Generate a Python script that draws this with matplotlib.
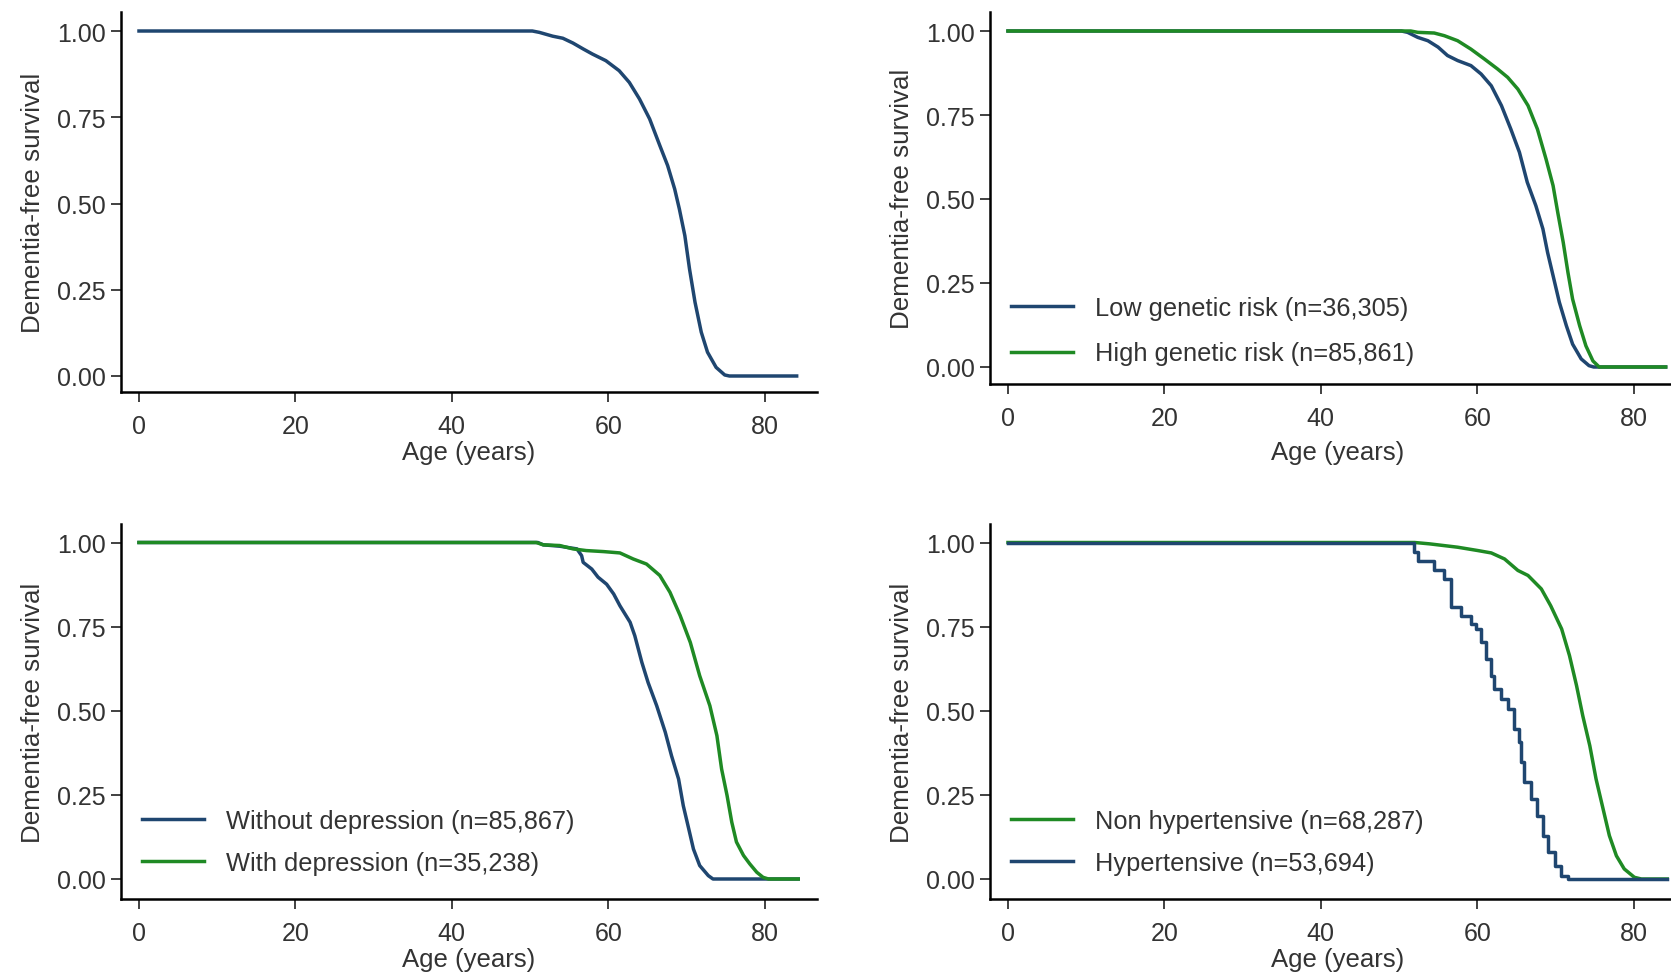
import matplotlib
matplotlib.use("Agg")
import matplotlib.pyplot as plt
from matplotlib.lines import Line2D

plt.rcParams['font.family'] = ['Liberation Sans', 'DejaVu Sans']

NAVY = '#1f4670'
GREEN = '#1f8a24'
TXT = '#333333'

# ---------------- data ----------------
# Panel A: overall
age_all = [0, 50.3, 51.2, 52.9, 54.2, 55.5, 56.8, 58.0, 59.7, 61.4, 62.7, 64.0, 65.3, 66.6,
           67.6, 68.5, 69.1, 69.8, 70.4, 71.1, 71.9, 72.7, 73.8, 74.9, 75.5, 84.1]
surv_all = [1, 1, 0.996, 0.985, 0.979, 0.965, 0.948, 0.933, 0.914, 0.885, 0.851, 0.803, 0.745, 0.668,
            0.610, 0.542, 0.484, 0.407, 0.310, 0.214, 0.127, 0.069, 0.025, 0.003, 0, 0]

# Panel B: genetic risk
age_low_gen = [0, 50.3, 51.1, 52.4, 53.7, 55.0, 56.2, 57.5, 59.2, 60.5, 61.8, 63.1, 64.3, 65.4,
               66.4, 67.5, 68.4, 69.0, 69.7, 70.5, 71.4, 72.2, 73.3, 74.3, 74.9, 84.1]
surv_low_gen = [1, 1, 0.996, 0.981, 0.971, 0.952, 0.927, 0.912, 0.897, 0.872, 0.837, 0.778, 0.708, 0.639,
                0.550, 0.480, 0.411, 0.341, 0.272, 0.193, 0.123, 0.068, 0.024, 0.004, 0, 0]
age_high_gen = [0, 51.5, 52.4, 54.5, 55.8, 57.5, 59.2, 60.9, 62.6, 63.9, 65.2, 66.5, 67.7, 68.8,
                69.7, 70.3, 71.0, 71.6, 72.2, 73.1, 73.9, 74.8, 75.6, 84.1]
surv_high_gen = [1, 1, 0.996, 0.994, 0.986, 0.971, 0.946, 0.917, 0.887, 0.862, 0.827, 0.778, 0.708, 0.619,
                 0.540, 0.460, 0.371, 0.282, 0.202, 0.123, 0.063, 0.018, 0, 0]

# Panel C: depression
age_no_dep = [0, 51.0, 51.7, 53.8, 56.0, 56.6, 56.8, 57.9, 58.7, 59.8, 60.7, 61.5, 62.8, 63.4, 64.3,
              65.1, 66.2, 67.3, 68.1, 69.0, 69.6, 70.3, 70.9, 71.7, 72.8, 73.4, 84.3]
surv_no_dep = [1, 1, 0.993, 0.989, 0.981, 0.961, 0.941, 0.921, 0.897, 0.876, 0.847, 0.812, 0.763, 0.723, 0.644,
               0.584, 0.515, 0.436, 0.366, 0.297, 0.218, 0.149, 0.089, 0.040, 0.010, 0, 0]
age_dep = [0, 50.8, 51.7, 53.8, 55.5, 57.2, 59.4, 61.5, 63.2, 64.9, 66.6, 67.9, 69.2, 70.5, 71.7,
           73.0, 73.9, 74.5, 75.2, 75.8, 76.4, 77.3, 78.1, 79.0, 79.8, 80.5, 84.3]
surv_dep = [1, 1, 0.993, 0.991, 0.981, 0.976, 0.973, 0.969, 0.951, 0.936, 0.902, 0.852, 0.783, 0.703, 0.604,
            0.515, 0.426, 0.327, 0.248, 0.169, 0.110, 0.070, 0.045, 0.020, 0.005, 0, 0]

# Panel D: hypertension
age_hyp = [0, 51.9, 52.4, 54.5, 55.8, 56.6, 57.9, 59.2, 59.8, 60.5, 61.1, 61.8, 62.2, 63.0, 63.9,
           64.7, 65.4, 65.6, 66.0, 66.9, 67.7, 68.4, 69.0, 69.9, 70.7, 71.6, 84.3]
surv_hyp = [1, 0.971, 0.946, 0.917, 0.892, 0.807, 0.782, 0.757, 0.743, 0.703, 0.654, 0.604, 0.565, 0.535, 0.505,
            0.446, 0.406, 0.347, 0.287, 0.238, 0.188, 0.129, 0.079, 0.040, 0.010, 0, 0]
age_nonhyp = [0, 52.0, 53.9, 57.5, 60.1, 61.8, 63.5, 65.2, 66.5, 68.2, 69.4, 70.8, 71.8, 72.7, 73.5,
              74.4, 75.2, 76.1, 76.9, 77.8, 78.8, 80.1, 81.0, 84.3]
surv_nonhyp = [1, 1, 0.996, 0.986, 0.976, 0.969, 0.951, 0.917, 0.902, 0.862, 0.812, 0.743, 0.664, 0.575, 0.485,
               0.396, 0.297, 0.208, 0.129, 0.069, 0.030, 0.005, 0, 0]

labels_gen = ['Low genetic risk (n=36,305)', 'High genetic risk (n=85,861)']
labels_dep = ['Without depression (n=85,867)', 'With depression (n=35,238)']
labels_hyp = ['Non hypertensive (n=68,287)', 'Hypertensive (n=53,694)']

x_ticks = [0, 20, 40, 60, 80]
y_ticks = [0.0, 0.25, 0.5, 0.75, 1.0]
y_ticklabels = ['0.00', '0.25', '0.50', '0.75', '1.00']

# ---------------- figure ----------------
W, H = 1671, 978
fig = plt.figure(figsize=(W / 100, H / 100), dpi=100)


def make_ax(left_px, top_px, bottom_px, width_px, y1_px, y0_px):
    ax = fig.add_axes([left_px / W, 1 - bottom_px / H, width_px / W, (bottom_px - top_px) / H])
    unit = y0_px - y1_px
    ax.set_ylim(-(bottom_px - y0_px) / unit, (y0_px - top_px) / unit)
    return ax


LW = 2.5
axA = make_ax(121, 13, 393, 696, 32, 377)
axB = make_ax(990, 13, 385, 696, 32, 368)
axC = make_ax(121, 525, 900, 696, 543.5, 880)
axD = make_ax(990, 525, 900, 696, 543.5, 880)

axA.plot(age_all, surv_all, color=NAVY, lw=LW)

axB.plot(age_low_gen, surv_low_gen, color=NAVY, lw=LW)
axB.plot(age_high_gen, surv_high_gen, color=GREEN, lw=LW)

axC.plot(age_no_dep, surv_no_dep, color=NAVY, lw=LW)
axC.plot(age_dep, surv_dep, color=GREEN, lw=LW)

axD.plot(age_nonhyp, surv_nonhyp, color=GREEN, lw=LW)
axD.plot(age_hyp, surv_hyp, color=NAVY, lw=LW, drawstyle='steps-post')

xlabel_y = {axA: -0.158, axB: -0.183, axC: -0.16, axD: -0.16}

for ax in (axA, axB, axC, axD):
    ax.set_xlim(-2.3, 86.7)
    ax.spines['top'].set_visible(False)
    ax.spines['right'].set_visible(False)
    for s in ('left', 'bottom'):
        ax.spines[s].set_linewidth(1.8)
        ax.spines[s].set_color('black')
    ax.set_xticks(x_ticks)
    ax.set_xticklabels([str(t) for t in x_ticks])
    ax.set_yticks(y_ticks)
    ax.set_yticklabels(y_ticklabels)
    ax.tick_params(axis='both', length=7, width=1.3, color='#333333', labelsize=18, labelcolor=TXT)
    ax.tick_params(axis='y', pad=4)
    ax.tick_params(axis='x', pad=9)
    ax.set_xlabel('Age (years)', fontsize=18.5, color=TXT, va='center')
    ax.xaxis.set_label_coords(0.5, xlabel_y[ax])
    ax.set_ylabel('Dementia-free survival', fontsize=18.7, color=TXT, va='center')
    ax.yaxis.set_label_coords(-0.126, 0.5)


def add_legend(ax, colors, labels, y_anchor, spacing):
    handles = [Line2D([0], [0], color=c, lw=LW) for c in colors]
    ax.legend(handles, labels, loc='lower left', bbox_to_anchor=(0.03, y_anchor),
              frameon=False, fontsize=18.3, handlelength=2.45, handletextpad=0.85,
              labelspacing=spacing, borderpad=0, borderaxespad=0, labelcolor=TXT)


add_legend(axB, [NAVY, GREEN], labels_gen, 0.05, 0.85)
add_legend(axC, [NAVY, GREEN], labels_dep, 0.063, 0.72)
add_legend(axD, [GREEN, NAVY], labels_hyp, 0.063, 0.72)

fig.savefig('out.png', dpi=100, facecolor='white')
